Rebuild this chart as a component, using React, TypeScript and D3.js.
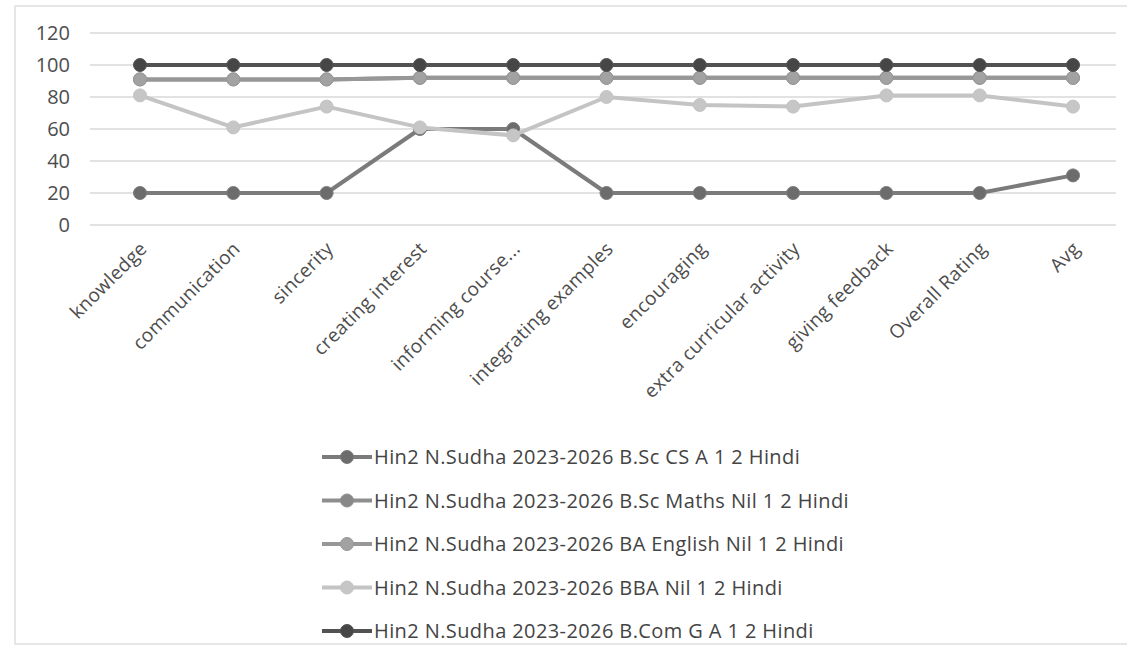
import React from "react";
import * as d3 from "d3";

const categories = [
  "knowledge",
  "communication",
  "sincerity",
  "creating interest",
  "informing course...",
  "integrating examples",
  "encouraging",
  "extra curricular activity",
  "giving feedback",
  "Overall Rating",
  "Avg",
];

const seriesNames = [
  "Hin2 N.Sudha 2023-2026 B.Sc CS A 1 2 Hindi",
  "Hin2 N.Sudha 2023-2026 B.Sc Maths Nil 1 2 Hindi",
  "Hin2 N.Sudha 2023-2026 BA English Nil 1 2 Hindi",
  "Hin2 N.Sudha 2023-2026 BBA Nil 1 2 Hindi",
  "Hin2 N.Sudha 2023-2026 B.Com G A 1 2 Hindi",
];

const bscCs = [20, 20, 20, 60, 60, 20, 20, 20, 20, 20, 31];
const bscMaths = [91, 91, 91, 92, 92, 92, 92, 92, 92, 92, 92];
const baEnglish = [91, 91, 91, 92, 92, 92, 92, 92, 92, 92, 92];
const bba = [81, 61, 74, 61, 56, 80, 75, 74, 81, 81, 74];
const bcom = [100, 100, 100, 100, 100, 100, 100, 100, 100, 100, 100];

const yTicks = [0, 20, 40, 60, 80, 100, 120];

const seriesValues = [bscCs, bscMaths, baEnglish, bba, bcom];
const lineColors = ["#7b7b7b", "#8e8e8e", "#979797", "#c4c4c4", "#525252"];
const markerColors = ["#6c6c6c", "#888888", "#a2a2a2", "#c6c6c6", "#464646"];

const FONT = "'Open Sans', 'Liberation Sans', sans-serif";

export default function App() {
  const W = 1127;
  const H = 667;
  const x = d3
    .scalePoint<string>()
    .domain(categories)
    .range([140, 1073]);
  const y = d3.scaleLinear().domain([0, 120]).range([225, 33]);
  const line = d3
    .line<number>()
    .x((_, i) => x(categories[i]) as number)
    .y((d) => y(d));

  const legendY = d3.scalePoint<number>().domain([0, 1, 2, 3, 4]).range([457, 631]);

  return (
    <svg
      width={W}
      height={H}
      style={{ position: "absolute", left: 0, top: 0, background: "#fff" }}
    >
      <rect x={0} y={0} width={W} height={H} fill="#fff" />
      <rect x={15} y={6} width={1130} height={638} fill="none" stroke="#dedede" strokeWidth={1.5} />
      {yTicks.map((t) => (
        <g key={t}>
          <line x1={90} x2={1116} y1={y(t)} y2={y(t)} stroke="#d9d9d9" strokeWidth={1.5} />
          <text
            x={70}
            y={y(t)}
            dy="0.36em"
            textAnchor="end"
            fontFamily={FONT}
            fontSize={20}
            fill="#4d4d4d"
          >
            {t}
          </text>
        </g>
      ))}
      {categories.map((c) => (
        <text
          key={c}
          transform={`translate(${(x(c) as number) + 8},${250}) rotate(-45)`}
          textAnchor="end"
          fontFamily={FONT}
          fontSize={19}
          letterSpacing={0.35}
          fill="#4d4d4d"
        >
          {c}
        </text>
      ))}
      {seriesValues.map((vals, si) => (
        <g key={si}>
          <path
            d={line(vals) || ""}
            fill="none"
            stroke={lineColors[si]}
            strokeWidth={4}
            strokeLinejoin="round"
          />
          {vals.map((v, i) => (
            <circle
              key={i}
              cx={x(categories[i]) as number}
              cy={y(v)}
              r={6.5}
              fill={markerColors[si]}
              stroke={lineColors[si]}
              strokeWidth={1}
            />
          ))}
        </g>
      ))}
      {seriesNames.map((n, si) => {
        const ly = legendY(si) as number;
        return (
          <g key={n}>
            <line x1={322} x2={372} y1={ly} y2={ly} stroke={lineColors[si]} strokeWidth={4} />
            <circle cx={347} cy={ly} r={6.5} fill={markerColors[si]} stroke={lineColors[si]} />
            <text
              x={374}
              y={ly}
              dy="0.36em"
              fontFamily={FONT}
              fontSize={20}
              letterSpacing={0.4}
              fill="#444"
            >
              {n}
            </text>
          </g>
        );
      })}
    </svg>
  );
}
